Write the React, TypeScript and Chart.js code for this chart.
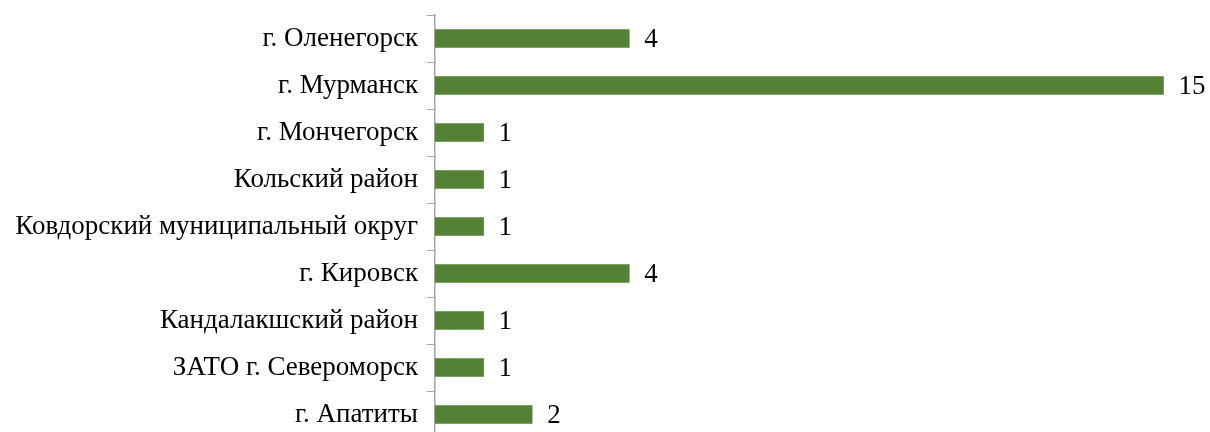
import React, { useEffect, useRef } from "react";
import { Chart, registerables } from "chart.js";

Chart.register(...registerables);

const categories = [
  "г. Оленегорск",
  "г. Мурманск",
  "г. Мончегорск",
  "Кольский район",
  "Ковдорский муниципальный округ",
  "г. Кировск",
  "Кандалакшский район",
  "ЗАТО г. Североморск",
  "г. Апатиты",
];
const values = [4, 15, 1, 1, 1, 4, 1, 1, 2];

const FONT = "'Liberation Serif', 'Times New Roman', serif";

const dataLabels = {
  id: "dataLabels",
  afterDatasetsDraw(chart: any) {
    const ctx = chart.ctx;
    const meta = chart.getDatasetMeta(0);
    ctx.save();
    ctx.font = `27px ${FONT}`;
    ctx.fillStyle = "#000";
    ctx.textAlign = "left";
    ctx.textBaseline = "middle";
    meta.data.forEach((bar: any, i: number) => {
      ctx.fillText(String(values[i]), bar.x + 15, bar.y + 1);
    });
    ctx.restore();
  },
};

export default function App() {
  const ref = useRef<HTMLCanvasElement | null>(null);
  useEffect(() => {
    if (!ref.current) return;
    const chart = new Chart(ref.current, {
      type: "bar",
      data: {
        labels: categories,
        datasets: [
          {
            data: values,
            backgroundColor: "#548235",
            borderWidth: 0,
            barThickness: 18,
          },
        ],
      },
      options: {
        indexAxis: "y",
        responsive: false,
        animation: false,
        devicePixelRatio: 1,
        layout: { padding: { top: 15, bottom: 0, left: 0, right: 0 } },
        plugins: {
          legend: { display: false },
          tooltip: { enabled: false },
        },
        scales: {
          x: {
            display: false,
            min: 0,
            max: 16,
          },
          y: {
            afterFit: (scale: any) => {
              scale.width = 435;
              scale.paddingTop = 0;
              scale.paddingBottom = 0;
            },
            grid: {
              drawOnChartArea: false,
              drawTicks: true,
              tickLength: 8,
              color: "#a6a6a6",
              offset: true,
            },
            border: { display: true, color: "#a6a6a6", width: 1.5 },
            ticks: {
              padding: 9,
              color: "#000",
              font: { family: FONT, size: 27 },
              autoSkip: false,
            },
          },
        },
      },
      plugins: [dataLabels],
    });
    return () => chart.destroy();
  }, []);
  return (
    <div
      style={{
        position: "fixed",
        left: 0,
        top: 0,
        width: 1210,
        height: 432,
        overflow: "hidden",
        background: "#fff",
      }}
    >
      <canvas ref={ref} width={1212} height={438} style={{ display: "block" }} />
    </div>
  );
}
